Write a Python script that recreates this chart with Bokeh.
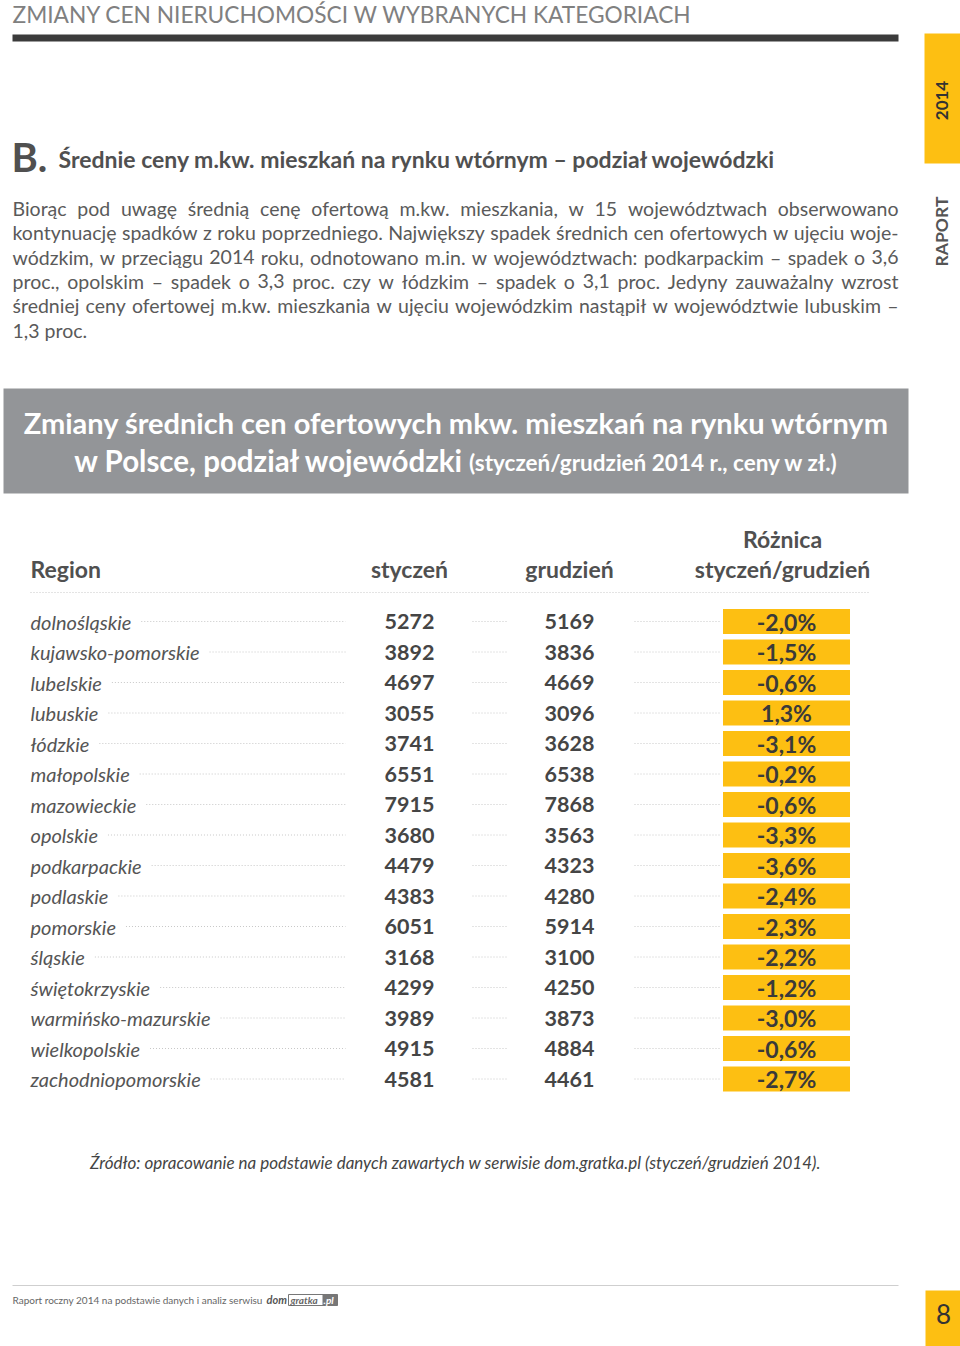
import math
import subprocess
from bokeh.plotting import figure
from bokeh.models import Range1d, ColumnDataSource
from bokeh.core.properties import value
from bokeh.embed import file_html
from bokeh.resources import INLINE

# ---------------- data ----------------
regions = ["dolnośląskie", "kujawsko-pomorskie", "lubelskie", "lubuskie", "łódzkie",
           "małopolskie", "mazowieckie", "opolskie", "podkarpackie", "podlaskie",
           "pomorskie", "śląskie", "świętokrzyskie", "warmińsko-mazurskie",
           "wielkopolskie", "zachodniopomorskie"]
styczen = [5272, 3892, 4697, 3055, 3741, 6551, 7915, 3680, 4479, 4383, 6051, 3168, 4299, 3989, 4915, 4581]
grudzien = [5169, 3836, 4669, 3096, 3628, 6538, 7868, 3563, 4323, 4280, 5914, 3100, 4250, 3873, 4884, 4461]
roznica = [-2.0, -1.5, -0.6, 1.3, -3.1, -0.2, -0.6, -3.3, -3.6, -2.4, -2.3, -2.2, -1.2, -3.0, -0.6, -2.7]
col_headers = ["Region", "styczeń", "grudzień", "Różnica", "styczeń/grudzień"]

page_title = "ZMIANY CEN NIERUCHOMOŚCI W WYBRANYCH KATEGORIACH"
section_letter = "B."
section_title = "Średnie ceny m.kw. mieszkań na rynku wtórnym – podział wojewódzki"
paragraph = [
    "Biorąc pod uwagę średnią cenę ofertową m.kw. mieszkania, w 15 województwach obserwowano",
    "kontynuację spadków z roku poprzedniego. Największy spadek średnich cen ofertowych w ujęciu woje-",
    "wódzkim, w przeciągu 2014 roku, odnotowano m.in. w województwach: podkarpackim – spadek o 3,6",
    "proc., opolskim – spadek o 3,3 proc. czy w łódzkim – spadek o 3,1 proc. Jedyny zauważalny wzrost",
    "średniej ceny ofertowej m.kw. mieszkania w ujęciu wojewódzkim nastąpił w województwie lubuskim –",
    "1,3 proc.",
]
box_title_1 = "Zmiany średnich cen ofertowych mkw. mieszkań na rynku wtórnym"
box_title_2a = "w Polsce, podział wojewódzki"
box_title_2b = "(styczeń/grudzień 2014 r., ceny w zł.)"
source_text = "Źródło: opracowanie na podstawie danych zawartych w serwisie dom.gratka.pl (styczeń/grudzień 2014)."
footer_text = "Raport roczny 2014 na podstawie danych i analiz serwisu"

# ---------------- style ----------------
FONT = "Lato"
YEL = "#FDBF12"
DARK = "#4a4a4a"
GREY = "#939598"


def font_path(pattern):
    try:
        out = subprocess.run(["fc-match", "-f", "%{file}", pattern],
                             capture_output=True, text=True, timeout=5).stdout.strip()
        return out or None
    except Exception:
        return None


def get_font(pattern, size):
    try:
        from PIL import ImageFont
        path = font_path(pattern)
        if path:
            return ImageFont.truetype(path, size)
    except Exception:
        pass
    return None


def text_width(font, s, size, factor=0.5):
    if font is not None:
        try:
            return font.getlength(s)
        except Exception:
            pass
    return len(s) * size * factor


p = figure(width=960, height=1346, x_range=Range1d(0, 960), y_range=Range1d(1346, 0),
           output_backend="svg", toolbar_location=None,
           x_axis_location=None, y_axis_location=None, min_border=0)
p.outline_line_color = None
p.grid.visible = False
p.background_fill_color = "white"


def txt(x, y, s, size, color=DARK, align="left", style="normal", baseline="middle", angle=0.0, font=FONT):
    p.text(x=[x], y=[y], text=[s], text_font=value(font), text_font_size=f"{size}px",
           text_color=color, text_align=align, text_baseline=baseline,
           text_font_style=style, angle=angle)


# ---------- page header ----------
txt(12, 14, page_title, 22.7, color="#808080")
p.quad(left=[12], right=[898], top=[34], bottom=[41], fill_color="#3b3b3b", line_color=None)
p.quad(left=[924], right=[960], top=[33], bottom=[163], fill_color=YEL, line_color=None)
txt(941, 100, "2014", 17, color="#333333", align="center", style="bold", angle=math.pi / 2)
txt(941, 231, "RAPORT", 17.5, color="#555555", align="center", style="bold", angle=math.pi / 2)

# ---------- section heading ----------
txt(11, 156, section_letter, 40, color="#505050", style="bold")
txt(58, 158, section_title, 23, color="#505050", style="bold")

# ---------- justified paragraph ----------
PSIZE = 19.5
pfont = get_font("Lato:style=Regular", PSIZE)
wx, wy, wt = [], [], []
left, right = 12, 898
line_y0, line_step = 208, 24.3
for i, line in enumerate(paragraph):
    y = line_y0 + i * line_step
    words = line.split(" ")
    if i == len(paragraph) - 1 or len(words) < 2:
        wx.append(left); wy.append(y); wt.append(line)
        continue
    widths = [text_width(pfont, w, PSIZE) for w in words]
    gap = (right - left - sum(widths)) / (len(words) - 1)
    x = left
    for w, wd in zip(words, widths):
        wx.append(x); wy.append(y); wt.append(w)
        x += wd + gap
p.text(x=wx, y=wy, text=wt, text_font=value(FONT), text_font_size=f"{PSIZE}px",
       text_color="#5a5a5a", text_align="left", text_baseline="middle")

# ---------- grey title box ----------
p.quad(left=[3], right=[908], top=[388], bottom=[493], fill_color=GREY, line_color=None)
txt(456, 422, box_title_1, 29, color="white", align="center", style="bold")
SA, SB = 29.5, 22.5
bfont_a = get_font("Lato:style=Bold", SA)
bfont_b = get_font("Lato:style=Bold", SB)
wa = text_width(bfont_a, box_title_2a, SA)
wb = text_width(bfont_b, box_title_2b, SB)
x2 = 455 - (wa + 7 + wb) / 2
p.text(x=[x2], y=[460], text=[box_title_2a], text_font=value(FONT), text_font_size=f"{SA}px",
       text_color="white", text_align="left", text_baseline="middle", text_font_style="bold")
p.text(x=[x2 + wa + 7], y=[462], text=[box_title_2b], text_font=value(FONT), text_font_size=f"{SB}px",
       text_color="white", text_align="left", text_baseline="middle", text_font_style="bold")

# ---------- table ----------
X_REG, X_JAN, X_DEC, X_DIF = 30, 409, 569, 786
HCOL = "#505050"
txt(X_REG, 568, col_headers[0], 23, color=HCOL, style="bold")
txt(X_JAN, 568, col_headers[1], 23, color=HCOL, align="center", style="bold")
txt(X_DEC, 568, col_headers[2], 23, color=HCOL, align="center", style="bold")
txt(782, 538, col_headers[3], 23, color=HCOL, align="center", style="bold")
txt(782, 568, col_headers[4], 23, color=HCOL, align="center", style="bold")
p.segment(x0=[30], x1=[870], y0=[592], y1=[592], line_color="#c8c8c8", line_width=1, line_dash="1 2")

ROW0, STEP = 621, 30.5
ys = [ROW0 + i * STEP for i in range(len(regions))]
ifont = get_font("Lato:style=Italic", 20)
name_end = [X_REG + text_width(ifont, r, 20) + 10 for r in regions]
src = ColumnDataSource(dict(
    y=ys, reg=regions,
    jan=[str(v) for v in styczen], dec=[str(v) for v in grudzien],
    dif=[("%.1f%%" % v).replace(".", ",") for v in roznica],
    lx0=name_end, lx1=[345] * len(regions),
    mx0=[472] * len(regions), mx1=[506] * len(regions),
    rx0=[634] * len(regions), rx1=[719] * len(regions),
))
p.segment(x0="lx0", x1="lx1", y0="y", y1="y", source=src, line_color="#c8c8c8", line_dash="1 2")
p.segment(x0="mx0", x1="mx1", y0="y", y1="y", source=src, line_color="#c8c8c8", line_dash="1 2")
p.segment(x0="rx0", x1="rx1", y0="y", y1="y", source=src, line_color="#c8c8c8", line_dash="1 2")
p.rect(x=X_DIF, y="y", width=127, height=25, source=src, fill_color=YEL, line_color=None)
p.text(x=X_REG, y="y", text="reg", source=src, text_font=value(FONT), text_font_size="20px",
       text_font_style="italic", text_color="#555555", text_align="left", text_baseline="middle")
p.text(x=X_JAN, y="y", text="jan", source=src, text_font=value(FONT), text_font_size="21.5px",
       text_font_style="bold", text_color="#454545", text_align="center", text_baseline="middle")
p.text(x=X_DEC, y="y", text="dec", source=src, text_font=value(FONT), text_font_size="21.5px",
       text_font_style="bold", text_color="#454545", text_align="center", text_baseline="middle")
p.text(x=X_DIF, y="y", text="dif", source=src, text_font=value(FONT), text_font_size="23px",
       text_font_style="bold", text_color="#3a3a3a", text_align="center", text_baseline="middle")

# ---------- source ----------
txt(455, 1162, source_text, 17, color="#444444", align="center", style="italic")

# ---------- footer ----------
p.segment(x0=[12], x1=[898], y0=[1285], y1=[1285], line_color="#cfcfcf", line_width=1)
txt(12, 1299, footer_text, 10, color="#666666")
txt(266, 1299, "dom", 11, color="#555555", style="bold italic")
p.quad(left=[288], right=[337], top=[1294], bottom=[1305], fill_color="white",
       line_color="#777777", line_width=1)
p.quad(left=[322], right=[337], top=[1294], bottom=[1305], fill_color="#777777", line_color=None)
txt(290, 1299.5, "gratka", 10, color="#666666", style="bold italic")
txt(323, 1299.5, ".pl", 10, color="white", style="bold italic")
p.quad(left=[925], right=[960], top=[1290], bottom=[1346], fill_color=YEL, line_color=None)
txt(943, 1313, "8", 26, color="#333333", align="center")

open("out.html", "w").write(file_html(p, INLINE))
